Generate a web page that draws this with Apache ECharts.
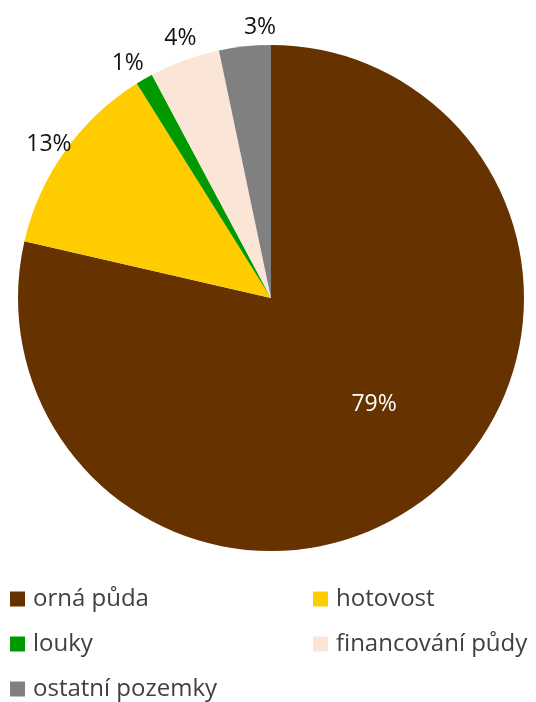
<!DOCTYPE html>
<html><head><meta charset="utf-8">
<script src="https://cdn.jsdelivr.net/npm/echarts@6/dist/echarts.min.js"></script>
<style>html,body{margin:0;padding:0;background:#fff}#c{width:536px;height:702px}</style>
</head><body><div id="c"></div>
<script>
var categories = ['orná půda', 'hotovost', 'louky', 'financování půdy', 'ostatní pozemky'];
var values = [78.6, 12.5, 1.1, 4.5, 3.3];
var labels = ['79%', '13%', '1%', '4%', '3%'];
var colors = ['#663300', '#FFCC00', '#009900', '#FBE5D6', '#808080'];
var labelNudges = [[9, -12], [6, 9], [-3, 8], [5, 4], [18, 8]];

var FONT = '"Open Sans", sans-serif';
var center = [271, 298];
var R = 253;

function mainData() {
  return categories.map(function (n, i) {
    return { name: n, value: values[i], itemStyle: { color: colors[i] } };
  });
}
function labelData(showIdx) {
  return categories.map(function (n, i) {
    return {
      name: n, value: values[i],
      label: { show: showIdx(i), formatter: labels[i], offset: labelNudges[i] }
    };
  });
}

var legendText = { fontFamily: FONT, fontSize: 24, color: '#404040', padding: [0, 0, 0, 3] };
function legendData(idx) {
  return idx.map(function (i) { return { name: categories[i], itemStyle: { color: colors[i] } }; });
}

var option = {
  animation: false,
  legend: [
    { orient: 'vertical', left: 10, top: 587, height: 115, padding: 0, itemWidth: 15, itemHeight: 15, itemGap: 21,
      icon: 'rect', textStyle: legendText, data: legendData([0, 2, 4]), selectedMode: false },
    { orient: 'vertical', left: 313, top: 587, height: 115, padding: 0, itemWidth: 15, itemHeight: 15, itemGap: 21,
      icon: 'rect', textStyle: legendText, data: legendData([1, 3]), selectedMode: false }
  ],
  series: [
    { type: 'pie', center: center, radius: [0, R], startAngle: 90, clockwise: true,
      label: { show: false }, labelLine: { show: false }, silent: true,
      data: mainData() },
    { type: 'pie', center: center, radius: [R + 8, R + 40], startAngle: 90, clockwise: true,
      itemStyle: { color: 'rgba(0,0,0,0)' }, silent: true, labelLine: { show: false },
      label: { position: 'inside', fontFamily: FONT, fontSize: 23, color: '#111' },
      data: labelData(function (i) { return i !== 0; }) },
    { type: 'pie', center: center, radius: [0, 296], startAngle: 90, clockwise: true,
      itemStyle: { color: 'rgba(0,0,0,0)' }, silent: true, labelLine: { show: false },
      label: { position: 'inside', fontFamily: FONT, fontSize: 23, color: '#fff' },
      data: labelData(function (i) { return i === 0; }) }
  ]
};
var chart = echarts.init(document.getElementById('c'), null, { renderer: 'canvas' });
chart.setOption(option);
</script></body></html>
